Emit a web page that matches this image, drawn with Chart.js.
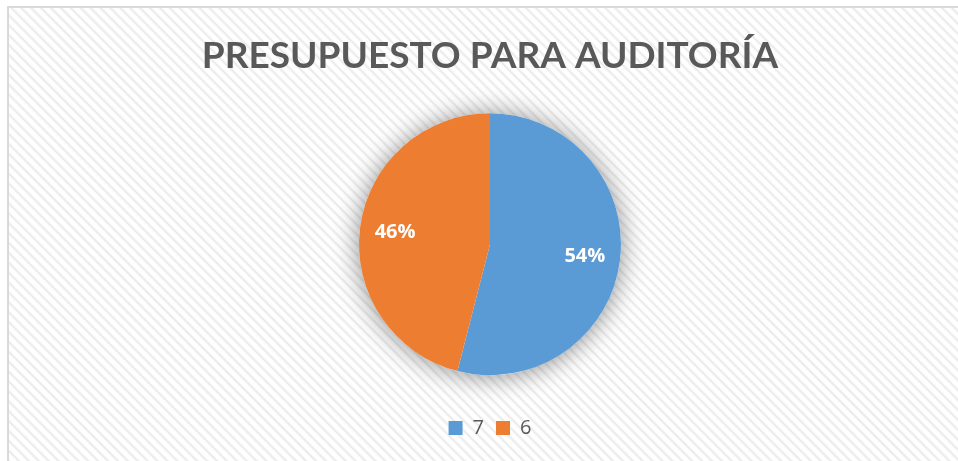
<!DOCTYPE html>
<html>
<head>
<meta charset="utf-8">
<script src="https://cdn.jsdelivr.net/npm/chart.js@4"></script>
<style>
  html, body { margin: 0; padding: 0; background: #fff; overflow: hidden; }
  body { width: 958px; height: 461px; position: relative; }
  #frame {
    position: absolute; left: 7px; top: 6px;
    width: 962px; height: 460px;
    border: 2px solid #d9d9d9;
    background: repeating-linear-gradient(45deg, #ffffff 0px, #ffffff 3px, #e9e9e9 5px, #ffffff 7px);
  }
  #chartCanvas { display: block; }
</style>
</head>
<body>
<div id="frame"><canvas id="chartCanvas" width="962" height="460"></canvas></div>
<script>
// datos del gráfico
const titulo = 'PRESUPUESTO PARA AUDITORÍA';
const categorias = ['7', '6'];
const valores = [54, 46];
const colores = ['#5B9BD5', '#ED7D31'];

// sombra suave detrás del círculo
const sombraPie = {
  id: 'sombraPie',
  beforeDatasetsDraw(chart) {
    const arc = chart.getDatasetMeta(0).data[0];
    if (!arc) return;
    const { x, y, outerRadius } = arc.getProps(['x', 'y', 'outerRadius'], true);
    const ctx = chart.ctx;
    ctx.save();
    ctx.shadowColor = 'rgba(0,0,0,0.45)';
    ctx.shadowBlur = 26;
    ctx.shadowOffsetY = 1;
    ctx.fillStyle = '#ffffff';
    ctx.beginPath();
    ctx.arc(x, y, outerRadius, 0, Math.PI * 2);
    ctx.fill();
    ctx.restore();
  }
};

// porcentajes dentro de cada porción
const etiquetas = {
  id: 'etiquetas',
  afterDatasetsDraw(chart) {
    const ctx = chart.ctx;
    const datos = chart.data.datasets[0].data;
    const total = datos.reduce((a, b) => a + b, 0);
    ctx.save();
    ctx.fillStyle = '#ffffff';
    ctx.font = 'bold 20px "Open Sans", sans-serif';
    ctx.textAlign = 'center';
    ctx.textBaseline = 'middle';
    chart.getDatasetMeta(0).data.forEach((arc, i) => {
      const { x, y, startAngle, endAngle, outerRadius } =
        arc.getProps(['x', 'y', 'startAngle', 'endAngle', 'outerRadius'], true);
      const mid = (startAngle + endAngle) / 2;
      const r = outerRadius * 0.73;
      const pct = Math.round(datos[i] / total * 100) + '%';
      ctx.fillText(pct, x + Math.cos(mid) * r, y + Math.sin(mid) * r);
    });
    ctx.restore();
  }
};

document.addEventListener('DOMContentLoaded', () => {
  const ctx = document.getElementById('chartCanvas').getContext('2d');
  new Chart(ctx, {
    type: 'pie',
    data: {
      labels: categorias,
      datasets: [{
        data: valores,
        backgroundColor: colores,
        borderWidth: 0,
        radius: 131
      }]
    },
    options: {
      responsive: false,
      animation: false,
      layout: { padding: { top: 0, bottom: 20, left: 0, right: 0 } },
      plugins: {
        title: {
          display: true,
          text: titulo,
          color: '#595959',
          font: { family: 'Lato', size: 37, weight: 'bold' },
          padding: { top: 26, bottom: 4 }
        },
        legend: {
          position: 'bottom',
          labels: {
            color: '#595959',
            font: { family: '"Open Sans"', size: 20 },
            boxWidth: 14,
            boxHeight: 14,
            padding: 12
          }
        },
        tooltip: { enabled: false }
      }
    },
    plugins: [sombraPie, etiquetas]
  });
});
</script>
</body>
</html>
